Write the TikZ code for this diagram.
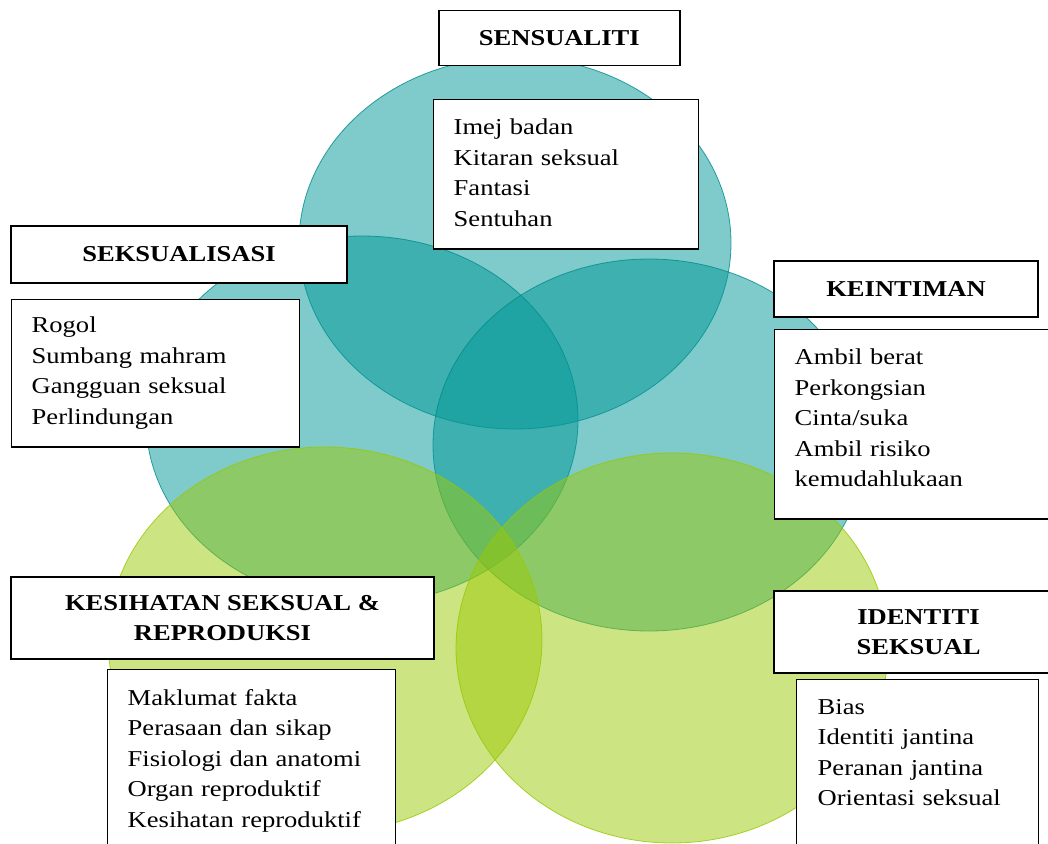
\documentclass[tikz,border=0pt]{standalone}
\usepackage{fontspec}
\setmainfont{Liberation Serif}[FakeStretch=1.17]
\definecolor{tealbase}{RGB}{0,150,150}
\definecolor{greenbase}{RGB}{155,201,5}
\definecolor{tealline}{RGB}{0,140,140}
\definecolor{greenline}{RGB}{150,200,0}
\newcommand{\botgap}[1]{\rule[-#1pt]{0pt}{#1pt}}
\begin{document}
\begin{tikzpicture}[x=1pt,y=-1pt,
  tealcirc/.style={fill=tealbase, fill opacity=0.5, draw=tealline, draw opacity=0.8, line width=0.8pt},
  greencirc/.style={fill=greenbase, fill opacity=0.5, draw=greenline, draw opacity=0.8, line width=0.8pt},
  titlebox/.style={draw=black, fill=white, line width=1.4pt, font=\fontsize{22.7}{30.5}\selectfont\bfseries, inner sep=0pt, align=center},
  listbox/.style={draw=black, fill=white, line width=1.4pt, font=\fontsize{22.7}{30.5}\selectfont, anchor=north west, inner xsep=20pt, inner ysep=19.5pt, align=left},
]
\useasboundingbox (0,0) rectangle (1048,843);
\clip (0,0) rectangle (1048,843);
% circles
\path[tealcirc] (515,243) ellipse [x radius=216, y radius=186];
\path[tealcirc] (362,420) ellipse [x radius=216, y radius=184];
\path[tealcirc] (649,445) ellipse [x radius=216, y radius=186];
\path[greencirc] (325,640) ellipse [x radius=217, y radius=193];
\path[greencirc] (672,648) ellipse [x radius=216, y radius=195];
% boxes
\node[titlebox, minimum width=241pt, minimum height=55pt] (sens) at (559.3,38.2) {SENSUALITI};
\node[listbox, text width=225pt] (sensl) at (433,99) {Imej badan\\Kitaran seksual\\Fantasi\\Sentuhan\botgap{3}};
\node[titlebox, minimum width=336pt, minimum height=57pt] (seks) at (179,254.5) {SEKSUALISASI};
\node[listbox, text width=248pt, inner ysep=17.5pt] (seksl) at (11,299) {Rogol\\Sumbang mahram\\Gangguan seksual\\Perlindungan};
\node[titlebox, minimum width=264pt, minimum height=56pt] (kein) at (906,289) {KEINTIMAN};
\node[listbox, text width=246pt] (keinl) at (774,329) {Ambil berat\\Perkongsian\\Cinta/suka\\Ambil risiko\\kemudahlukaan\botgap{12.5}};
\node[titlebox, minimum width=423pt, minimum height=82pt] (kes) at (222.5,618) {KESIHATAN SEKSUAL \&\\REPRODUKSI};
\node[listbox, text width=248pt] (kesl) at (107,669) {Maklumat fakta\\Perasaan dan sikap\\Fisiologi dan anatomi\\Organ reproduktif\\Kesihatan reproduktif\botgap{40}};
\node[titlebox, minimum width=289pt, minimum height=82pt] (iden) at (918.5,632) {IDENTITI\\SEKSUAL};
\node[listbox, text width=200pt, inner xsep=21pt] (idenl) at (796,679) {Bias\\Identiti jantina\\Peranan jantina\\Orientasi seksual\botgap{60}};
\end{tikzpicture}
\end{document}
